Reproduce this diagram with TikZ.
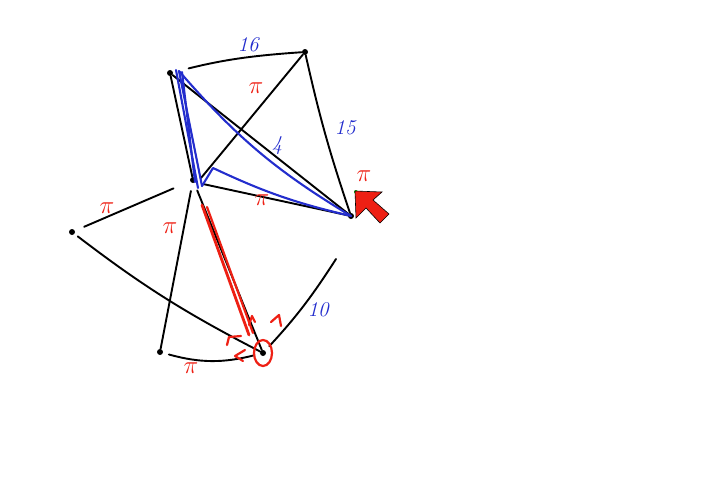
\documentclass[tikz,border=0pt]{standalone}
\usepackage{xcolor}
\usepackage{amsmath}
\usepackage{tikz}
\usetikzlibrary{arrows}

\definecolor{penblue}{RGB}{35,45,205}
\definecolor{penred}{RGB}{238,32,20}

\tikzset{
  vertex/.style={circle,fill=black,inner sep=0pt,minimum size=6pt},
  edge/.style={line width=1.9pt,line cap=round},
  bluepen/.style={penblue,line width=2.1pt,line cap=round,line join=round},
  redpen/.style={penred,line width=2.2pt,line cap=round,line join=round},
  weight/.style={text=penblue,font=\itshape\fontsize{21}{21}\selectfont},
  cost/.style={text=penred,font=\fontsize{30}{30}\selectfont}
}

\begin{document}
\begin{tikzpicture}[x=1pt,y=-1pt]
    \useasboundingbox (0,0) rectangle (720,485);

    % vertices
    \node[vertex](s) at (170,73){};
    \node[vertex](t) at (305,52){};
    \node[vertex](c) at (193,180){};
    \node[vertex](r) at (351,216){};
    \node[vertex](a) at (72,232){};
    \node[vertex](p) at (160,352){};
    \node[vertex](b) at (263,353){};
    \coordinate (out) at (336,259);

    % black edges
    \draw[edge,shorten <=16pt] (s) to[bend left=5] (t);
    \draw[edge] (t) to[bend right=3] (r);
    \draw[edge] (t) -- ([xshift=8pt,yshift=2pt]c.center);
    \draw[edge] (s) -- (r);
    \draw[edge] (s) -- (c);
    \draw[edge] ([xshift=10pt,yshift=-4pt]c.center) -- (r);
    \draw[edge,shorten <=10pt,shorten >=18pt] (a) -- (c);
    \draw[edge,shorten <=4pt] (a) to[bend right=5] (b);
    \draw[edge,shorten <=8pt] (c) -- (p);
    \draw[edge,shorten <=8pt] (c) -- (b);
    \draw[edge,shorten <=6pt,shorten >=6pt] (p) to[bend right=15] (b);
    \draw[edge,shorten <=6pt] (b) to[bend right=5] (out);

    % blue path
    \draw[bluepen] ([xshift=6pt,yshift=3pt]s.center) -- ([xshift=5pt,yshift=-8pt]c.center);
    \draw[bluepen] ([xshift=9pt,yshift=2pt]s.center) -- ([xshift=9pt,yshift=-6pt]c.center);
    \draw[bluepen] ([xshift=12pt,yshift=1pt]s.center) -- ([xshift=2pt,yshift=-2pt]c.center);
    \draw[bluepen] ([xshift=9pt,yshift=2pt]s.center) to[bend right=9] (r.center);
    \draw[bluepen] ([xshift=9pt,yshift=-6pt]c.center)
      -- ([xshift=20pt,yshift=12pt]c.center) to[bend right=6] (r.center);

    % red walk
    \draw[redpen,line width=2.8pt] ([xshift=9pt,yshift=-25pt]c.center) -- ([xshift=-14pt,yshift=18pt]b.center);
    \draw[redpen] ([xshift=14pt,yshift=-27pt]c.center) -- ([xshift=-10pt,yshift=20pt]b.center);
    \draw[redpen] ([xshift=-14pt,yshift=28pt]b.center) -- ([xshift=-11pt,yshift=37pt]b.center) -- ([xshift=-8pt,yshift=31pt]b.center);
    \draw[redpen] ([xshift=8pt,yshift=31pt]b.center) -- ([xshift=16pt,yshift=38pt]b.center) -- ([xshift=18pt,yshift=27pt]b.center);
    \draw[redpen] ([xshift=-36pt,yshift=8pt]b.center) -- ([xshift=-34pt,yshift=16pt]b.center) -- ([xshift=-22pt,yshift=17pt]b.center);
    \draw[redpen] ([xshift=-18pt,yshift=3pt]b.center) -- ([xshift=-28pt,yshift=-3pt]b.center) -- ([xshift=-20pt,yshift=-8pt]b.center);
    \draw[redpen] (b) ellipse[x radius=9pt,y radius=13pt];

    % weights
    \node[weight] (w16) at (248,45) {16};
    \node[weight] (w15) at (345,128) {15};
    \node[weight] (w4) at (277,146) {4};
    \node[weight] (w10) at (318,310) {10};

    % costs
    \node[cost] (pst) at (256,88) {$\pi$};
    \node[cost] (ptr) at (364,176) {$\pi$};
    \node[cost] (pcr) at (262,200) {$\pi$};
    \node[cost] (pac) at (107,208) {$\pi$};
    \node[cost] (pcp) at (170,228) {$\pi$};
    \node[cost] (ppb) at (191,368) {$\pi$};

    % pointer
    \fill[green!70!black] (356,192) circle[radius=2pt];
    \filldraw[fill=penred,draw=black,line width=0.6pt]
      (355,191) -- (382,192) -- (373,200) -- (389,214) -- (380,223)
      -- (366,208) -- (356,218) -- cycle;
  \end{tikzpicture}
\end{document}
